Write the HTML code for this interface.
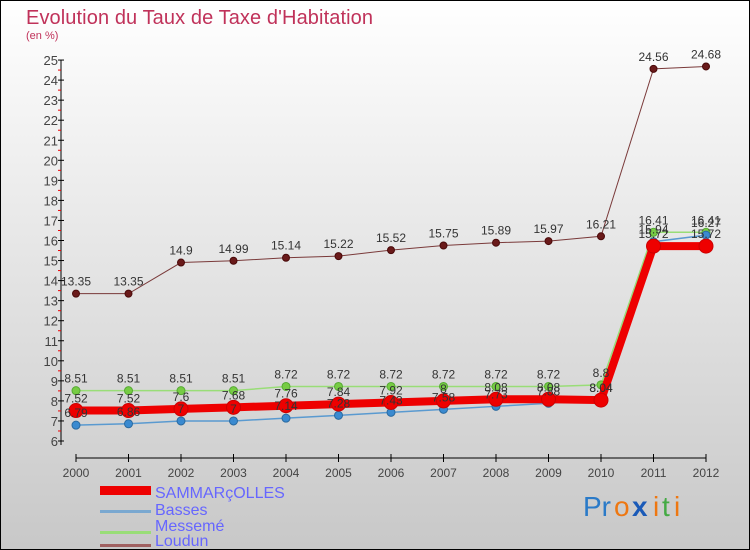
<!DOCTYPE html>
<html><head><meta charset="utf-8"><style>
body{margin:0}
#c{width:750px;height:550px;position:relative;overflow:hidden;font-family:"Liberation Sans","DejaVu Sans",sans-serif}
</style></head><body>
<div id="c">
<svg id="s" width="750" height="550" xmlns="http://www.w3.org/2000/svg">
<defs><linearGradient id="bg" x1="0" y1="0" x2="0" y2="1"><stop offset="0" stop-color="#ffffff"/><stop offset="1" stop-color="#c8c8c8"/></linearGradient></defs>
<rect x="0.5" y="0.5" width="749" height="549" fill="url(#bg)" stroke="#000"/>
<text x="26" y="24" font-size="20" fill="#c0325a" textLength="347">Evolution du Taux de Taxe d'Habitation</text>
<text x="26" y="39" font-size="11" fill="#c0325a">(en %)</text>
<g id="axes"></g>
<g id="series"></g>
<g id="labels"></g>
<g>
<rect x="100" y="486" width="51" height="9" fill="#e00"/>
<text x="155" y="498" font-size="16" fill="#6666ff">SAMMARçOLLES</text>
<rect x="100" y="510" width="51" height="3" fill="#7aa8d0"/>
<text x="155" y="515" font-size="16" fill="#6666ff">Basses</text>
<rect x="100" y="531" width="51" height="3" fill="#99dd77"/>
<text x="155" y="531" font-size="16" fill="#6666ff">Messemé</text>
<rect x="100" y="544" width="51" height="3" fill="#a06060"/>
<text x="155" y="546" font-size="16" fill="#6666ff">Loudun</text>
</g>
<g font-size="28">
<text x="583" y="516" fill="#2a7ac8">Pr</text><text x="614" y="516" fill="#ee7711">o</text><text x="632" y="516" fill="#1a5ab8" font-weight="bold">x</text><text x="653" y="516" fill="#ee7711">i</text><text x="662" y="516" fill="#44aa44">t</text><text x="674" y="516" fill="#ee7711">i</text>
</g>
</svg>
</div>
<script>
const years=["2000","2001","2002","2003","2004","2005","2006","2007","2008","2009","2010","2011","2012"];
const yTicks=[6,7,8,9,10,11,12,13,14,15,16,17,18,19,20,21,22,23,24,25];
const sammarcolles=[7.52,7.52,7.6,7.68,7.76,7.84,7.92,8,8.08,8.08,8.04,15.72,15.72];
const basses=[6.79,6.86,7,7,7.14,7.28,7.43,7.58,7.73,7.88,8.04,15.94,16.27];
const messeme=[8.51,8.51,8.51,8.51,8.72,8.72,8.72,8.72,8.72,8.72,8.8,16.41,16.41];
const loudun=[13.35,13.35,14.9,14.99,15.14,15.22,15.52,15.75,15.89,15.97,16.21,24.56,24.68];
const NS="http://www.w3.org/2000/svg";
const X=i=>76+i*52.5;
const Y=v=>441-(v-6)*20.05;
function mk(t,a,p){const e=document.createElementNS(NS,t);for(const k in a)e.setAttribute(k,a[k]);p.appendChild(e);return e;}
const ax=document.getElementById('axes'),se=document.getElementById('series'),lb=document.getElementById('labels');
let yl=mk('line',{x1:61,y1:Y(25),x2:61,y2:445,stroke:'#000'},ax);


yTicks.forEach(v=>{
 mk('line',{x1:58,y1:Y(v),x2:64,y2:Y(v),stroke:'#000'},ax);
 if(v<25) mk('line',{x1:58,y1:Y(v+0.5),x2:61,y2:Y(v+0.5),stroke:'#e00'},ax);
 let t=mk('text',{x:58,y:Y(v)+5,'font-size':13,fill:'#444','text-anchor':'end'},ax);t.textContent=v;
 
 
});
let xl=mk('line',{x1:76,y1:458,x2:706,y2:458,stroke:'#000'},ax);


years.forEach((y,i)=>{
 mk('line',{x1:X(i),y1:454,x2:X(i),y2:462,stroke:'#000'},ax);
 let t=mk('text',{x:X(i),y:477,'font-size':12,fill:'#444','text-anchor':'middle'},ax);t.textContent=y;
 
 
});
function series(d,name,color,w,r,dot,stroke){
 const g=mk('g',{},se);
 
 
 mk('polyline',{points:d.map((v,i)=>X(i)+','+Y(v)).join(' '),fill:'none',stroke:color,'stroke-width':w},g);
 d.forEach((v,i)=>{const c=mk('circle',{cx:X(i),cy:Y(v),r:r,fill:dot,stroke:stroke,'stroke-width':1},g);
  
  });
 d.forEach((v,i)=>{const t=mk('text',{x:X(i),y:Y(v)-8,'font-size':12,fill:'#333','text-anchor':'middle'},lb);t.textContent=v;
  
  });
}
series(loudun,'loudun','#7a3a3a',1,3.5,'#6a1a1a','#4a0a0a');
series(messeme,'messeme','#99dd77',1.5,4,'#77cc44','#55aa33');
series(basses,'basses','#5a9ad0',1.5,4,'#3a8ad0','#2a6aa0');
series(sammarcolles,'sammarcolles','#ee0000',8,7,'#ee0000','#cc0000');
</script>
</body></html>
